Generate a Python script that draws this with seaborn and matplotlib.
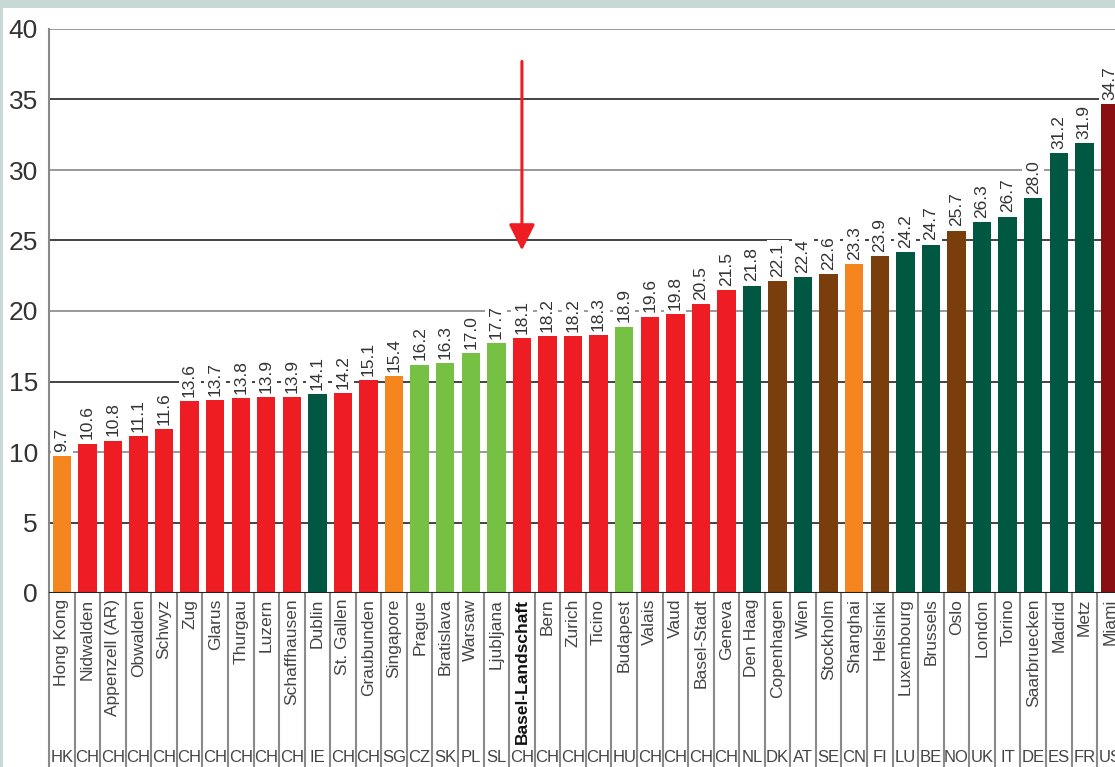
import matplotlib
matplotlib.use("Agg")
import matplotlib.pyplot as plt
import matplotlib.transforms as mtransforms
from matplotlib.patches import Rectangle
import seaborn as sns

cities = ["Hong Kong", "Nidwalden", "Appenzell (AR)", "Obwalden", "Schwyz", "Zug", "Glarus",
          "Thurgau", "Luzern", "Schaffhausen", "Dublin", "St. Gallen", "Graubunden", "Singapore",
          "Prague", "Bratislava", "Warsaw", "Ljubljana", "Basel-Landschaft", "Bern", "Zurich",
          "Ticino", "Budapest", "Valais", "Vaud", "Basel-Stadt", "Geneva", "Den Haag",
          "Copenhagen", "Wien", "Stockholm", "Shanghai", "Helsinki", "Luxembourg", "Brussels",
          "Oslo", "London", "Torino", "Saarbruecken", "Madrid", "Metz", "Miami"]
values = [9.7, 10.6, 10.8, 11.1, 11.6, 13.6, 13.7, 13.8, 13.9, 13.9, 14.1, 14.2, 15.1, 15.4,
          16.2, 16.3, 17.0, 17.7, 18.1, 18.2, 18.2, 18.3, 18.9, 19.6, 19.8, 20.5, 21.5, 21.8,
          22.1, 22.4, 22.6, 23.3, 23.9, 24.2, 24.7, 25.7, 26.3, 26.7, 28.0, 31.2, 31.9, 34.7]
codes = ["HK", "CH", "CH", "CH", "CH", "CH", "CH", "CH", "CH", "CH", "IE", "CH", "CH", "SG",
         "CZ", "SK", "PL", "SL", "CH", "CH", "CH", "CH", "HU", "CH", "CH", "CH", "CH", "NL",
         "DK", "AT", "SE", "CN", "FI", "LU", "BE", "NO", "UK", "IT", "DE", "ES", "FR", "US"]
groups = ["asia", "ch", "ch", "ch", "ch", "ch", "ch", "ch", "ch", "ch", "west", "ch", "ch", "asia",
          "east", "east", "east", "east", "ch", "ch", "ch", "ch", "east", "ch", "ch", "ch", "ch",
          "west", "north", "west", "north", "asia", "north", "west", "west", "north", "west",
          "west", "west", "west", "west", "us"]
highlight = "Basel-Landschaft"

group_colors = {"asia": "#F5861F", "ch": "#EE1D23", "west": "#005843", "east": "#76C143",
                "north": "#7A3D0C", "us": "#8A0F12"}

plt.rcParams["font.family"] = ["Liberation Sans", "DejaVu Sans"]

W, H = 1115, 767
fig = plt.figure(figsize=(W / 100, H / 100), dpi=100, facecolor="#C8D9D5")
fig.patches.append(Rectangle((3 / W, 0), 1, 1 - 8 / H, transform=fig.transFigure,
                             facecolor="white", edgecolor="none", zorder=-10))

ax_left, ax_bottom, ax_top = 49 / W, (H - 593) / H, (H - 29) / H
ax = fig.add_axes([ax_left, ax_bottom, 1 - ax_left, ax_top - ax_bottom])
ax.set_zorder(1)
ax.set_facecolor("white")

palette = [group_colors[g] for g in groups]
sns.barplot(x=cities, y=values, hue=cities, palette=palette, legend=False,
            width=0.72, saturation=1, ax=ax, zorder=3)

n = len(cities)
ax.set_xlim(-0.5, 41.2)
ax.set_ylim(0, 40)
ax.set_yticks(range(0, 41, 5))
ax.tick_params(axis="y", length=0, pad=8, labelsize=19, labelcolor="#333333")
ax.set_xticks([])
ax.set_xlabel("")
ax.set_ylabel("")
for s in ["top", "right", "bottom"]:
    ax.spines[s].set_visible(False)
ax.spines["left"].set_color("#888888")
ax.spines["left"].set_linewidth(1.5)

for yv in range(5, 41, 5):
    ax.axhline(yv, color="#888888" if yv % 10 == 0 else "#222222", lw=1.2, zorder=1)
ax.axhline(0, color="#222222", lw=1.5, zorder=4)

# value labels above bars (white box breaks the grid lines like the original)
for i, v in enumerate(values):
    ax.text(i, v + 0.3, f"{v:.1f}", rotation=90, ha="center", va="bottom", fontsize=12.5,
            color="#333333", zorder=5,
            bbox=dict(facecolor="white", edgecolor="none", pad=2.5))

# category area below the axis
trans = mtransforms.blended_transform_factory(ax.transData, ax.transAxes)
low = -(H - 593) / (593 - 29)
for b in range(n + 1):
    ax.plot([b - 0.5, b - 0.5], [0, low], transform=trans, color="#8a8a8a", lw=1.5,
            clip_on=False, zorder=2)

for i, (c, code) in enumerate(zip(cities, codes)):
    bold = c == highlight
    ax.text(i, -0.01, c, transform=trans, rotation=90, ha="center", va="top", fontsize=12.5,
            color="#111111" if bold else "#444444", fontweight="bold" if bold else "normal",
            clip_on=False)
    ax.text(i, -(757 - 593) / (593 - 29), code, transform=trans, ha="center", va="center",
            fontsize=12, color="#444444", clip_on=False)

# arrow pointing at the highlighted bar
hx = cities.index(highlight)
ax.annotate("", xy=(hx, 24.3), xytext=(hx, 37.7),
            arrowprops=dict(arrowstyle="-|>,head_length=1.6,head_width=0.8", color="#EE1D23",
                            lw=2.2, shrinkA=0, shrinkB=0), zorder=6)

fig.savefig("out.png", dpi=100, facecolor=fig.get_facecolor())
